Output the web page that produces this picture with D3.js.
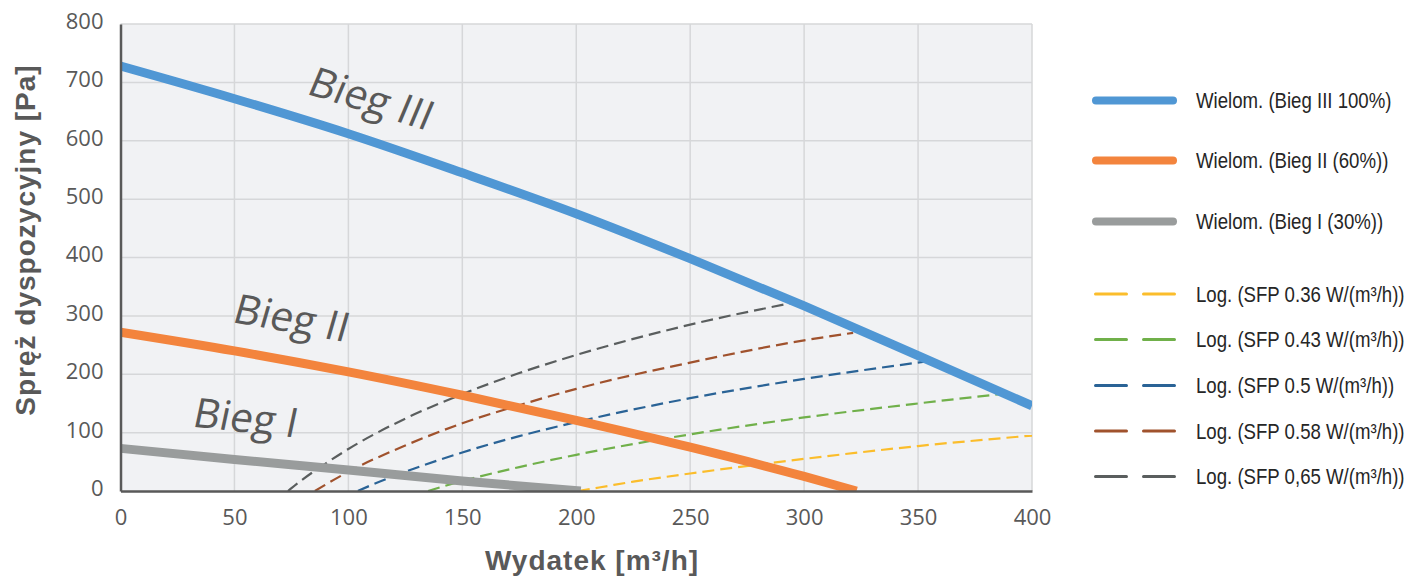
<!DOCTYPE html>
<html>
<head>
<meta charset="utf-8">
<script src="https://cdn.jsdelivr.net/npm/d3@7"></script>
<style>
  body { margin: 0; background: #fff; }
  svg { display: block; }
</style>
</head>
<body>
<div id="chart"></div>
<script>
// tick values
const xTicks = [0, 50, 100, 150, 200, 250, 300, 350, 400];
const yTicks = [0, 100, 200, 300, 400, 500, 600, 700, 800];

// fan curves (polynomial trendlines)
const bieg3X = [0, 50, 100, 150, 200, 250, 300, 350, 400];
const bieg3Y = [728, 672, 612, 545, 475, 398, 317, 232, 146];
const bieg2X = [0, 50, 100, 150, 200, 250, 300, 323];
const bieg2Y = [272, 240, 204, 164, 121, 75, 25, 0];
const bieg1X = [0, 50, 100, 150, 202];
const bieg1Y = [73, 54, 36, 17, 0];

// SFP curves (log trendlines)
const sfp036X = [200.7, 210, 225, 250, 300, 350, 400];
const sfp036Y = [0, 6, 16, 30, 55, 77, 95];
const sfp043X = [135, 140, 150, 175, 200, 250, 300, 350, 388.5];
const sfp043Y = [0, 6, 17, 41, 62, 97, 126, 150, 167];
const sfp05X = [104.2, 110, 125, 150, 175, 200, 250, 300, 355.6];
const sfp05Y = [0, 10, 33, 66, 94, 118, 159, 192, 223];
const sfp058X = [85.3, 90, 100, 125, 150, 175, 200, 250, 300, 321.5];
const sfp058Y = [0, 11, 33, 78, 116, 147, 175, 220, 258, 271];
const sfp065X = [73.5, 80, 90, 100, 125, 150, 175, 200, 250, 294.5];
const sfp065Y = [0, 20, 47, 72, 124, 166, 202, 233, 285, 322];

const speedNames = ["Wielom. (Bieg III 100%)", "Wielom. (Bieg II (60%))", "Wielom. (Bieg I (30%))"];
const sfpNames = ["Log. (SFP 0.36 W/(m³/h))", "Log. (SFP 0.43 W/(m³/h))", "Log. (SFP 0.5 W/(m³/h))",
                  "Log. (SFP 0.58 W/(m³/h))", "Log. (SFP 0,65 W/(m³/h))"];
const curveLabels = ["Bieg III", "Bieg II", "Bieg I"];

(function() {
    const width = 1408, height = 581;
    const margin = {top: 24, right: 376, bottom: 90, left: 120.5};
    const svg = d3.select("#chart").append("svg").attr("width", width).attr("height", height);

    const x = d3.scaleLinear().domain([0, 400]).range([margin.left, width - margin.right]);
    const y = d3.scaleLinear().domain([0, 800]).range([height - margin.bottom, margin.top]);

    const zip = (xs, ys) => xs.map((v, i) => [v, ys[i]]);
    const speeds = [
        {pts: zip(bieg3X, bieg3Y), color: "#5097d4"},
        {pts: zip(bieg2X, bieg2Y), color: "#f3843d"},
        {pts: zip(bieg1X, bieg1Y), color: "#999c9c"}
    ];
    const sfps = [
        {pts: zip(sfp036X, sfp036Y), color: "#fbbd2b"},
        {pts: zip(sfp043X, sfp043Y), color: "#70b04a"},
        {pts: zip(sfp05X, sfp05Y), color: "#2a6396"},
        {pts: zip(sfp058X, sfp058Y), color: "#a0522d"},
        {pts: zip(sfp065X, sfp065Y), color: "#5a5e5e"}
    ];

    // plot background
    svg.append("rect")
        .attr("x", x(0)).attr("y", y(800))
        .attr("width", x(400) - x(0)).attr("height", y(0) - y(800))
        .attr("fill", "#f1f2f4");

    svg.append("clipPath").attr("id", "plotclip")
        .append("rect")
        .attr("x", x(0)).attr("y", y(800))
        .attr("width", x(400) - x(0)).attr("height", y(0) - y(800));

    // grid
    svg.append("g").selectAll("line").data(xTicks.slice(1)).join("line")
        .attr("x1", d => x(d)).attr("x2", d => x(d))
        .attr("y1", y(0)).attr("y2", y(800))
        .attr("stroke", "#d6d7d9").attr("stroke-width", 1.5);
    svg.append("g").selectAll("line").data(yTicks.slice(1)).join("line")
        .attr("x1", x(0)).attr("x2", x(400))
        .attr("y1", d => y(d)).attr("y2", d => y(d))
        .attr("stroke", "#d6d7d9").attr("stroke-width", 1.5);

    const line = d3.line().x(d => x(d[0])).y(d => y(d[1])).curve(d3.curveMonotoneX);
    const plot = svg.append("g").attr("clip-path", "url(#plotclip)");

    // dashed SFP curves under the fan curves
    plot.selectAll("path.sfp").data(sfps).join("path")
        .attr("class", "sfp")
        .attr("d", d => line(d.pts))
        .attr("fill", "none")
        .attr("stroke", d => d.color)
        .attr("stroke-width", 2.2)
        .attr("stroke-dasharray", "12,6");

    plot.selectAll("path.speed").data(speeds.slice().reverse()).join("path")
        .attr("class", "speed")
        .attr("d", d => line(d.pts))
        .attr("fill", "none")
        .attr("stroke", d => d.color)
        .attr("stroke-width", 9);

    // axes
    const xAxis = svg.append("g")
        .attr("transform", `translate(0,${y(0)})`)
        .call(d3.axisBottom(x).tickValues(xTicks).tickSize(0).tickPadding(18));
    xAxis.select(".domain").attr("stroke", "#595959").attr("stroke-width", 2.5);
    const yAxis = svg.append("g")
        .attr("transform", `translate(${x(0)},0)`)
        .call(d3.axisLeft(y).tickValues(yTicks).tickSize(0).tickPadding(17));
    yAxis.select(".domain").attr("stroke", "#595959").attr("stroke-width", 2.5);
    svg.selectAll(".tick text")
        .attr("fill", "#595959")
        .style("font-family", "'Open Sans', sans-serif")
        .style("font-size", "22px");
    yAxis.selectAll(".tick text").attr("dy", "0.2em");

    // axis titles
    svg.append("text")
        .attr("x", 592).attr("y", 570)
        .attr("text-anchor", "middle")
        .attr("fill", "#595959")
        .style("font-family", "'Liberation Sans', Arial, sans-serif")
        .style("font-size", "28px").style("font-weight", "bold")
        .style("letter-spacing", "1px")
        .text("Wydatek [m³/h]");
    svg.append("text")
        .attr("transform", "translate(35,240) rotate(-90)")
        .attr("text-anchor", "middle")
        .attr("fill", "#595959")
        .style("font-family", "'Liberation Sans', Arial, sans-serif")
        .style("font-size", "28px").style("font-weight", "bold")
        .style("letter-spacing", "1px")
        .text("Spręż dyspozycyjny [Pa]");

    // curve labels
    const labelPos = [[366, 112, 17], [288, 332, 10], [243, 432, 6]];
    svg.append("g").selectAll("text").data(curveLabels).join("text")
        .attr("transform", (d, i) => `translate(${labelPos[i][0]},${labelPos[i][1]}) rotate(${labelPos[i][2]}) skewX(-6)`)
        .attr("text-anchor", "middle")
        .attr("fill", "#595959")
        .style("font-family", "'Open Sans', sans-serif")
        .style("font-size", "41px")
        .text(d => d);

    // legend (narrow text via horizontal scale)
    const legendText = (sel, names) => sel.append("text")
        .attr("transform", "translate(1196,7.5) scale(0.81,1)")
        .attr("fill", "#262626")
        .style("font-family", "'Liberation Sans', Arial, sans-serif")
        .style("font-size", "23px")
        .text((d, i) => names[i]);

    const speedRows = [100.5, 160.5, 221.5];
    const lg1 = svg.append("g").selectAll("g").data(speeds).join("g")
        .attr("transform", (d, i) => `translate(0,${speedRows[i]})`);
    lg1.append("line")
        .attr("x1", 1096).attr("x2", 1173)
        .attr("stroke", d => d.color).attr("stroke-width", 8)
        .attr("stroke-linecap", "round");
    legendText(lg1, speedNames);

    const sfpRows = [294, 339.5, 385.5, 431, 476.5];
    const lg2 = svg.append("g").selectAll("g").data(sfps).join("g")
        .attr("transform", (d, i) => `translate(0,${sfpRows[i]})`);
    lg2.append("line")
        .attr("x1", 1095.5).attr("x2", 1175)
        .attr("stroke", d => d.color).attr("stroke-width", 3)
        .attr("stroke-linecap", "round")
        .attr("stroke-dasharray", "31,17");
    legendText(lg2, sfpNames);
})();
</script>
</body>
</html>
